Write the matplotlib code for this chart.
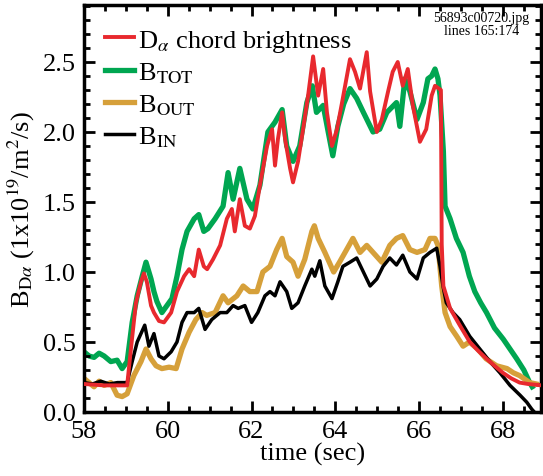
import numpy as np
import matplotlib
matplotlib.use("Agg")
import matplotlib.pyplot as plt
from matplotlib.ticker import MultipleLocator, FormatStrFormatter

plt.rcParams["font.family"] = ["Liberation Serif", "DejaVu Serif"]
plt.rcParams["mathtext.fontset"] = "stix"

# D-alpha chord brightness (red)
t_red = [58.0, 58.48, 58.79, 59.03, 59.12, 59.24, 59.36, 59.43, 59.5, 59.6, 59.67, 59.79, 59.91,
         60.08, 60.22, 60.39, 60.51, 60.63, 60.74, 60.86, 60.94, 61.08, 61.25, 61.41, 61.53, 61.6,
         61.72, 61.84, 61.96, 62.08, 62.2, 62.37, 62.49, 62.56, 62.63, 62.73, 62.8, 62.92, 62.99,
         63.11, 63.23, 63.35, 63.47, 63.59, 63.71, 63.8, 63.92, 64.04, 64.16, 64.35, 64.47, 64.59,
         64.75, 64.83, 64.99, 65.11, 65.26, 65.37, 65.49, 65.61, 65.73, 65.85, 66.02, 66.17, 66.3,
         66.38, 66.52, 66.54, 66.58, 66.74, 66.97, 67.21, 67.4, 67.61, 67.8, 68.0, 68.2, 68.4, 68.6, 68.93]
v_red = [0.20, 0.19, 0.19, 0.19, 0.45, 0.78, 0.93, 0.99, 0.93, 0.76, 0.71, 0.65, 0.64,
         0.71, 0.86, 0.97, 1.02, 0.97, 1.16, 1.04, 1.02, 1.09, 1.19, 1.38, 1.45, 1.29,
         1.52, 1.33, 1.31, 1.40, 1.62, 1.90, 2.02, 1.76, 1.95, 2.14, 1.95, 1.74, 1.64,
         1.79, 2.02, 2.26, 2.54, 2.26, 2.45, 2.14, 1.90, 2.02, 2.21, 2.52, 2.43, 2.31,
         2.57, 2.29, 2.00, 2.09, 2.29, 2.43, 2.50, 2.33, 2.45, 2.19, 1.93, 2.02, 2.26,
         2.33, 2.30, 1.20, 0.90, 0.74, 0.62, 0.50, 0.44, 0.38, 0.33, 0.28, 0.24, 0.21, 0.20, 0.19]

# B_TOT (green)
t_tot = [58.0, 58.12, 58.24, 58.36, 58.48, 58.64, 58.79, 58.91, 59.03, 59.15, 59.27, 59.39, 59.48,
         59.6, 59.67, 59.74, 59.86, 59.98, 60.1, 60.22, 60.34, 60.46, 60.63, 60.74, 60.86, 60.96,
         61.13, 61.32, 61.44, 61.56, 61.72, 61.89, 62.03, 62.2, 62.39, 62.56, 62.73, 62.84, 62.99,
         63.15, 63.32, 63.45, 63.55, 63.71, 63.83, 63.94, 64.06, 64.2, 64.35, 64.51, 64.67, 64.9,
         65.06, 65.23, 65.46, 65.54, 65.66, 65.78, 65.95, 66.1, 66.21, 66.3, 66.38, 66.45, 66.5,
         66.58, 66.62, 66.74, 66.89, 67.05, 67.2, 67.33, 67.47, 67.61, 67.8, 68.01, 68.17, 68.33,
         68.5, 68.64, 68.7]
v_tot = [0.43, 0.40, 0.39, 0.42, 0.40, 0.36, 0.37, 0.31, 0.36, 0.64, 0.83, 0.97, 1.07,
         0.95, 0.86, 0.79, 0.71, 0.76, 0.81, 0.97, 1.16, 1.29, 1.38, 1.41, 1.29, 1.31,
         1.38, 1.47, 1.71, 1.52, 1.74, 1.52, 1.45, 1.62, 2.00, 2.07, 2.16, 1.90, 1.79,
         1.90, 2.21, 2.33, 2.14, 2.19, 2.00, 1.83, 2.04, 2.20, 2.31, 2.24, 2.14, 2.00,
         2.02, 2.14, 2.21, 2.04, 2.38, 2.29, 2.09, 2.21, 2.38, 2.40, 2.45, 2.38, 2.26,
         1.86, 1.47, 1.38, 1.24, 1.14, 0.97, 0.86, 0.78, 0.71, 0.60, 0.52, 0.45, 0.38,
         0.30, 0.21, 0.18]

# B_OUT (gold)
t_out = [58.0, 58.12, 58.24, 58.36, 58.48, 58.64, 58.79, 58.91, 59.03, 59.19, 59.36, 59.48, 59.6,
         59.72, 59.86, 60.03, 60.2, 60.34, 60.51, 60.67, 60.82, 60.93, 61.13, 61.32, 61.44, 61.65,
         61.8, 61.96, 62.13, 62.27, 62.44, 62.6, 62.73, 62.84, 62.99, 63.11, 63.27, 63.44, 63.5,
         63.59, 63.75, 63.96, 64.1, 64.27, 64.42, 64.59, 64.75, 64.9, 65.11, 65.3, 65.46, 65.61,
         65.78, 65.95, 66.14, 66.26, 66.38, 66.45, 66.54, 66.62, 66.74, 66.9, 67.05, 67.2, 67.4,
         67.6, 67.85, 68.1, 68.25, 68.4, 68.64, 68.8]
v_out = [0.24, 0.21, 0.18, 0.22, 0.19, 0.21, 0.12, 0.11, 0.13, 0.26, 0.36, 0.45, 0.38,
         0.33, 0.31, 0.32, 0.31, 0.45, 0.57, 0.66, 0.71, 0.69, 0.71, 0.83, 0.78, 0.83,
         0.90, 0.86, 0.86, 1.00, 1.04, 1.16, 1.24, 1.11, 1.07, 0.97, 1.09, 1.29, 1.33,
         1.24, 1.14, 1.00, 1.07, 1.16, 1.24, 1.14, 1.19, 1.14, 1.07, 1.19, 1.24, 1.26,
         1.16, 1.14, 1.16, 1.24, 1.24, 1.19, 0.90, 0.71, 0.61, 0.54, 0.47, 0.50, 0.45,
         0.38, 0.33, 0.31, 0.28, 0.26, 0.21, 0.20]

# B_IN (black)
t_in = [58.0, 58.2, 58.4, 58.6, 58.8, 59.03, 59.15, 59.27, 59.39, 59.45, 59.55, 59.67, 59.79,
        59.91, 60.08, 60.22, 60.34, 60.46, 60.63, 60.74, 60.89, 61.05, 61.25, 61.41, 61.56, 61.68,
        61.84, 62.0, 62.15, 62.32, 62.44, 62.56, 62.68, 62.84, 62.96, 63.11, 63.27, 63.44, 63.51,
        63.63, 63.75, 63.92, 64.06, 64.18, 64.35, 64.51, 64.67, 64.83, 64.99, 65.14, 65.3, 65.46,
        65.61, 65.78, 65.95, 66.1, 66.26, 66.42, 66.5, 66.57, 66.65, 66.81, 66.97, 67.21, 67.45,
        67.69, 67.93, 68.17, 68.41, 68.57, 68.69, 68.75]
v_in = [0.21, 0.20, 0.22, 0.20, 0.21, 0.21, 0.36, 0.50, 0.58, 0.62, 0.47, 0.56, 0.40,
        0.38, 0.43, 0.50, 0.64, 0.71, 0.71, 0.74, 0.59, 0.66, 0.71, 0.71, 0.76, 0.74,
        0.76, 0.64, 0.71, 0.83, 0.86, 0.83, 0.93, 0.86, 0.74, 0.78, 0.90, 1.02, 0.97,
        1.08, 0.90, 0.81, 0.93, 1.04, 1.07, 1.10, 1.00, 0.90, 0.95, 1.04, 1.10, 1.05,
        1.12, 1.00, 0.95, 1.10, 1.14, 1.17, 1.04, 0.90, 0.78, 0.71, 0.66, 0.54, 0.45,
        0.36, 0.28, 0.19, 0.12, 0.07, 0.02, 0.00]

RED = "#E8292E"
GREEN = "#00A651"
GOLD = "#D6A03A"

fig = plt.figure(figsize=(5.43, 4.77), dpi=100)
ax = fig.add_axes([0.1547, 0.1342, 0.8416, 0.8532])

l_tot, = ax.plot(t_tot, v_tot, color=GREEN, lw=3.8, zorder=1, label=r"B$_{\mathrm{TOT}}$")
l_out, = ax.plot(t_out, v_out, color=GOLD, lw=3.8, zorder=2, label=r"B$_{\mathrm{OUT}}$")
l_in, = ax.plot(t_in, v_in, color="black", lw=2.5, zorder=3, label=r"B$_{\mathrm{IN}}$")
l_red, = ax.plot(t_red, v_red, color=RED, lw=2.8, zorder=4, label=r"D$_\alpha$ chord brightness")

ax.set_xlim(58, 68.91)
ax.set_ylim(0, 2.907)
ax.xaxis.set_major_locator(MultipleLocator(2))
ax.xaxis.set_minor_locator(MultipleLocator(0.5))
ax.yaxis.set_major_locator(MultipleLocator(0.5))
ax.yaxis.set_minor_locator(MultipleLocator(0.1))
ax.yaxis.set_major_formatter(FormatStrFormatter("%.1f"))
ax.tick_params(which="both", direction="in", top=True, right=True, labelsize=19, pad=6)
ax.tick_params(which="major", length=8, width=2)
ax.tick_params(which="minor", length=4, width=2)
for s in ax.spines.values():
    s.set_linewidth(2.5)

ax.set_xlabel("time (sec)", fontsize=19, labelpad=0)
ax.set_ylabel(r"B$_{\mathrm{D}\alpha}$ (1x10$^{19}$/m$^2$/s)", fontsize=19, labelpad=4)

ax.legend(handles=[l_red, l_tot, l_out, l_in], loc="upper left", bbox_to_anchor=(-0.005, 1.003),
          frameon=False, fontsize=19, handlelength=1.1, handletextpad=0.15,
          labelspacing=0.27, borderaxespad=0.5)

ax.text(0.87, 0.985, "56893c00720.jpg\nlines 165:174", transform=ax.transAxes,
        ha="center", va="top", fontsize=10, linespacing=0.95)

fig.savefig("out.png", dpi=100)
